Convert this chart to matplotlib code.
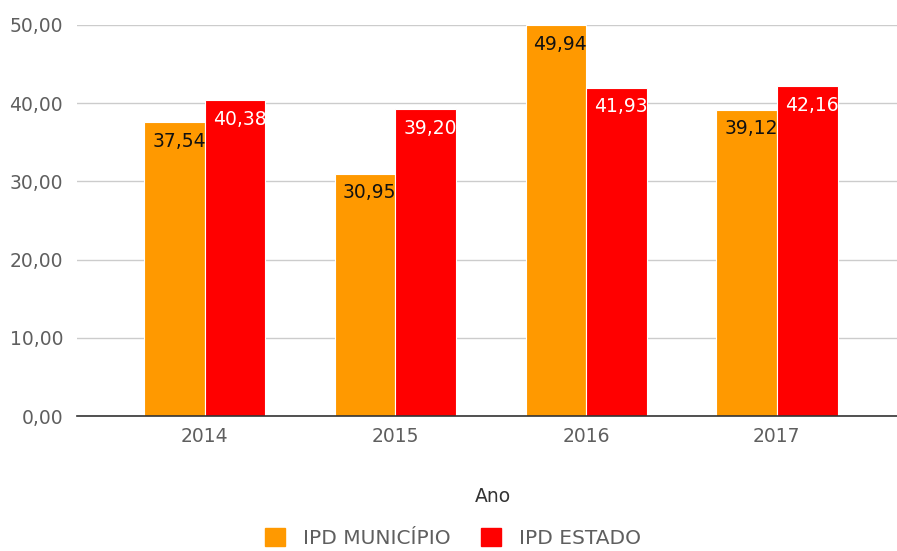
import matplotlib.pyplot as plt
import numpy as np
from matplotlib.patches import Patch

years = ['2014', '2015', '2016', '2017']
ipd_municipio = [37.54, 30.95, 49.94, 39.12]
ipd_estado = [40.38, 39.20, 41.93, 42.16]
yticks = [0, 10, 20, 30, 40, 50]

plt.rcParams['font.family'] = ['DejaVu Sans']

fig = plt.figure(figsize=(8.97, 5.51), dpi=100)
ax = fig.add_axes([77/897, 135/551, 820/897, 391/551])

x = np.arange(len(years))
w = 0.318
b1 = ax.bar(x - w/2, ipd_municipio, w, color='#FF9900', edgecolor='white', linewidth=0.8, zorder=3)
b2 = ax.bar(x + w/2, ipd_estado, w, color='#FF0000', edgecolor='white', linewidth=0.8, zorder=3)

def fmt(v):
    return f'{v:.2f}'.replace('.', ',')

for bars, vals, col in [(b1, ipd_municipio, '#111111'), (b2, ipd_estado, 'white')]:
    for r, v in zip(bars, vals):
        ax.text(r.get_x() + r.get_width() + 0.005, v - 1.2, fmt(v), ha='right', va='top',
                color=col, fontsize=13.5, zorder=4)

ax.set_xlim(-0.67, 3.63)
ax.set_ylim(0, 50)
ax.set_yticks(yticks)
ax.set_yticklabels([fmt(t) for t in yticks])
ax.set_xticks(x)
ax.set_xticklabels(years)
ax.tick_params(axis='both', length=0, labelsize=13.5, labelcolor='#5f5f5f')
ax.tick_params(axis='y', pad=10)
ax.tick_params(axis='x', pad=8)
ax.grid(axis='y', color='#cccccc', linewidth=1, zorder=0)
for s in ['top', 'right', 'left']:
    ax.spines[s].set_visible(False)
ax.spines['bottom'].set_color('#333333')
ax.spines['bottom'].set_linewidth(1.2)
ax.spines['bottom'].set_zorder(5)

fig.text(493/897, 1 - 497/551, 'Ano', ha='center', va='center', fontsize=13.5, color='#333333')

handles = [Patch(color='#FF9900'), Patch(color='#FF0000')]
fig.legend(handles, ['IPD MUNICÍPIO', 'IPD ESTADO'], loc='center', bbox_to_anchor=(453/897, 1 - 538/551),
           ncol=2, frameon=False, fontsize=14.5, labelcolor='#5f5f5f', handlelength=1.0, handleheight=1.0,
           columnspacing=1.5, handletextpad=0.9)

fig.savefig('out.png', dpi=100)
